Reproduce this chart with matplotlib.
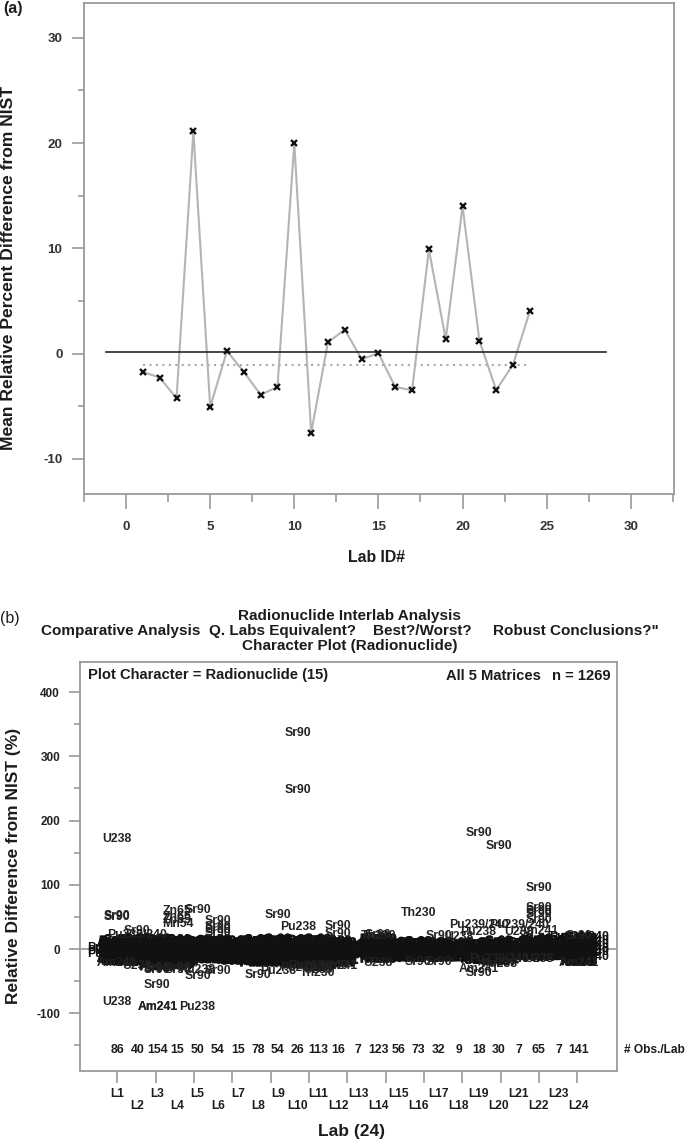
"""Interlab comparison figure: mean difference per lab and radionuclide character plot."""

import matplotlib

matplotlib.use("Agg")
import matplotlib.patheffects as pe
import matplotlib.pyplot as plt

plt.rcParams["font.family"] = ["Liberation Sans", "DejaVu Sans"]
plt.rcParams["axes.unicode_minus"] = False

WIDTH, HEIGHT = 685, 1142
FRAME = "#9a9a9a"
TEXT = "#1c1c1c"

# panel (a)
lab_ids = list(range(1, 25))
mean_diff = [-1.74, -2.27, -4.24, 21.1, -5.07, 0.26, -1.74, -3.9, -3.16, 20.0, -7.54, 1.08,
             2.28, -0.53, 0.04, -3.16, -3.48, 9.9, 1.37, 14.0, 1.24, -3.45, -1.04, 4.03]
solid_x = [-1.2, 28.5]
solid_y = [0.13, 0.13]
dotted_x = [1, 24]
dotted_y = [-1.07, -1.07]

# panel (b)
obs_counts = [86, 40, 154, 15, 50, 54, 15, 78, 54, 26, 113, 16, 7, 123, 56, 73, 32, 9, 18, 30, 7, 65, 7, 141]

# readable labels standing clear of the dense band
fringe_labs = [1, 1, 1, 1, 1,
               2, 2, 2,
               3, 3, 3, 3, 3, 3,
               4, 4, 4, 4, 4, 4,
               5, 5, 5, 5,
               6, 6, 6, 6, 6,
               8,
               9, 9,
               10, 10, 10, 10,
               11, 11, 11,
               12, 12, 12,
               14, 14, 14,
               16, 16,
               17, 17,
               18,
               19, 19, 19, 19, 19,
               20, 20, 20,
               21, 21,
               22, 22, 22, 22, 22, 22, 22,
               24, 24]
fringe_names = ["U238", "Sr90", "Sr90", "U238", "Am241",
                "Sr90", "Pu239/240", "U238",
                "Sr90", "Am241", "Am241", "Sr90", "Sr90", "Sr90",
                "Zn65", "Zn65", "Zn65", "Mn54", "Sr90", "Sr90",
                "Sr90", "Pu238", "Pu238", "Sr90",
                "Sr90", "Sr90", "Sr90", "Sr90", "Sr90",
                "Sr90",
                "Sr90", "Pu238",
                "Sr90", "Sr90", "Pu238", "Pu238",
                "Th230", "Pu239/240", "U238",
                "Sr90", "Sr90", "Am241",
                "U238", "Th230", "Sr90",
                "Th230", "Sr90",
                "Sr90", "Sr90",
                "U238",
                "Sr90", "Sr90", "Am241", "Pu238", "Pu239/240",
                "Sr90", "Pu238", "Pu239/240",
                "Pu239/240", "U238",
                "Sr90", "Sr90", "Sr90", "Sr90", "Sr90", "Am241", "U238",
                "Sr90", "Am241"]
fringe_values = [171, 51, 50, -83, -22,
                 28, 22, -27,
                 -56, -90, -90, -30, -31, -32,
                 59, 50, 45, 39, -30, -32,
                 60, -90, -33, -42,
                 44, 35, 30, 25, -35,
                 -40,
                 53, -34,
                 336, 248, 34, -29,
                 -37, -26, -32,
                 36, 23, -26,
                 -22, 21, 22,
                 56, -20,
                 20, -20,
                 19,
                 180, -37, -31, 27, 37,
                 160, -23, -15,
                 37, 27,
                 95, 64, 59, 54, 45, 28, -15,
                 20, -22]

fill_names = ["Sr90", "Pu238", "U238", "Am241", "Cs137", "Th230", "U234", "Co60", "Ra226", "Pu239"]

band_values = [
    [14, 12, 11, 9, 8, 7, 5, 4, 3, 2, 1, 0, -1, -2, -3, -5, -6, -7, -8, -10, -11, -12, -14, -15, -17, -19, -20],
    [16, 14, 12, 11, 9, 7, 6, 4, 3, 1, 0, -2, -3, -5, -6, -8, -10, -11, -13, -15, -17, -19, -21],
    [15, 14, 12, 11, 9, 8, 6, 5, 4, 2, 1, 0, -1, -3, -4, -5, -7, -8, -10, -11, -13, -14, -16, -17, -19, -20, -22, -24, -26, -28],
    [14, 11, 9, 6, 4, 1, -1, -4, -6, -9, -11, -14, -16, -19, -21, -24, -26],
    [13, 11, 9, 7, 5, 3, 2, 0, -1, -3, -5, -7, -9, -11, -13, -15, -17],
    [14, 12, 10, 8, 6, 4, 2, 0, -1, -3, -5, -7, -9, -11, -13, -15, -17],
    [12, 9, 7, 4, 2, 0, -3, -5, -8, -10, -13, -15, -17, -18, -19],
    [14, 12, 10, 8, 6, 5, 3, 1, 0, -2, -4, -5, -7, -9, -11, -13, -15, -17, -20, -22],
    [15, 13, 11, 8, 6, 4, 2, 0, -2, -4, -6, -8, -10, -13, -15, -17, -19, -22],
    [14, 12, 9, 6, 4, 1, -2, -4, -7, -10, -12, -15, -18, -20, -23, -25],
    [15, 13, 12, 10, 9, 7, 5, 4, 2, 1, -1, -2, -4, -6, -7, -9, -10, -12, -14, -15, -17, -19, -21, -23, -25, -27, -29],
    [12, 9, 7, 4, 2, 0, -3, -5, -7, -10, -12, -14, -16, -18, -20, -22],
    [7, 4, 2, -1, -3, -6, -9],
    [17, 15, 13, 11, 9, 7, 5, 3, 2, 0, -2, -3, -5, -7, -9, -11, -12, -14, -16],
    [10, 8, 6, 4, 2, 0, -2, -4, -6, -8, -10, -12, -14],
    [11, 9, 7, 5, 3, 1, -1, -3, -5, -7, -9, -11, -13, -15],
    [10, 8, 6, 4, 1, -1, -3, -5, -7, -9, -12, -14],
    [9, 6, 3, 0, -3, -6, -8, -11, -14],
    [9, 7, 5, 3, 0, -2, -4, -6, -9, -11, -13, -16, -18],
    [12, 9, 7, 5, 3, 1, -1, -3, -5, -7, -9, -11, -14, -17, -20],
    [11, 7, 3, 0, -3, -7, -11],
    [15, 13, 11, 9, 7, 5, 3, 1, -1, -3, -5, -7, -9, -11, -13],
    [13, 8, 4, 0, -4, -8, -12],
    [18, 16, 14, 12, 11, 9, 7, 5, 4, 2, 0, -1, -3, -5, -7, -8, -10, -12, -14, -16, -18, -20, -21],
]
long_labs = [1, 1, 1, 5, 8, 11, 14, 20, 24, 24, 24, 24, 24, 24]
long_values = [2, -3, -8, 0, -2, -4, 1, -15, 19, 12, 6, 0, -5, -12]

tick_labels_b = [f"L{lab}" for lab in lab_ids]


def add_axes_px(fig, left, right, top, bottom):
    return fig.add_axes([left / WIDTH, 1 - bottom / HEIGHT, (right - left) / WIDTH, (bottom - top) / HEIGHT])


def style_frame(ax):
    for spine in ax.spines.values():
        spine.set_color(FRAME)
        spine.set_linewidth(1.3)


def fig_text(fig, x, y, text, **kwargs):
    kwargs.setdefault("color", TEXT)
    kwargs.setdefault("weight", "bold")
    kwargs.setdefault("ha", "center")
    kwargs.setdefault("va", "center")
    fig.text(x / WIDTH, 1 - y / HEIGHT, text, **kwargs)


def draw_panel_a(fig):
    ax = add_axes_px(fig, 84, 673.7, 3, 493.7)
    ax.set_xlim(-2.5, 32.55)
    ax.set_ylim(-13.3, 33.3)
    style_frame(ax)

    ax.plot(lab_ids, mean_diff, color="#b4b4b4", linewidth=1.5, zorder=2)
    ax.plot(solid_x, solid_y, color="#262626", linewidth=1.2, zorder=3)
    ax.plot(dotted_x, dotted_y, color="#a8a8a8", linewidth=1.5, linestyle=(0, (1, 2.1)), zorder=1)
    ax.plot(lab_ids, mean_diff, linestyle="none", marker="x", color="#111111", markersize=5, markeredgewidth=1.7, zorder=4)

    ax.set_xticks(range(0, 31, 5))
    ax.set_xticks([-2.5, 2.5, 7.5, 12.5, 17.5, 22.5, 27.5, 32.5], minor=True)
    ax.set_yticks(range(-10, 31, 10))
    ax.set_yticks([-5, 5, 15, 25], minor=True)
    ax.tick_params(axis="x", which="major", length=10.5, width=1.2, color=FRAME, pad=9.5)
    ax.tick_params(axis="x", which="minor", length=5.5, width=1.2, color=FRAME)
    ax.tick_params(axis="y", which="major", length=9, width=1.2, color=FRAME, pad=6.5)
    ax.tick_params(axis="y", which="minor", length=4.3, width=1.2, color=FRAME)
    for label in ax.get_xticklabels() + ax.get_yticklabels():
        label.set_fontsize(9.6)
        label.set_fontweight("bold")
        label.set_color("#333333")

    fig_text(fig, 376, 557, "Lab ID#", fontsize=11.4)
    fig_text(fig, 9, 268, "Mean Relative Percent Difference from NIST", fontsize=12.6, rotation=90)
    fig_text(fig, 13, 8, "(a)", fontsize=11.5)


def draw_panel_b(fig):
    ax = add_axes_px(fig, 79.5, 616.7, 662, 1071)
    ax.set_xlim(-0.883, 25.88)
    ax.set_ylim(-190, 447)
    style_frame(ax)
    ax.axhline(0, color="#8a8a8a", linewidth=1.1, zorder=0)

    # a hairline stroke stands in for the smeared print of the dense band
    smear = [pe.withStroke(linewidth=0.7, foreground="#111111")]
    for lab, values in zip(lab_ids, band_values):
        for i, value in enumerate(values):
            ax.text(lab, value, fill_names[i % len(fill_names)], fontsize=8.8, weight="bold", color="#111111",
                    ha="center", va="center", path_effects=smear)
    for lab, value in zip(long_labs, long_values):
        ax.text(lab, value, "Pu239/240", fontsize=8.8, weight="bold", color="#111111", ha="center", va="center")
    for lab, name, value in zip(fringe_labs, fringe_names, fringe_values):
        ax.text(lab, value, name, fontsize=8.8, weight="bold", color="#222222", ha="center", va="center")

    for lab, count in zip(lab_ids, obs_counts):
        ax.text(lab, -157, str(count), fontsize=8.8, weight="bold", color=TEXT, ha="center", va="center")

    # tick spacing on this axis is a little tighter than the label spacing
    ax.set_xticks([1 + k * 38.33 / 20.07 for k in range(13)])
    ax.set_xticklabels([])
    ax.tick_params(axis="x", length=8.6, width=1.2, color=FRAME)
    ax.set_yticks(range(-100, 401, 100))
    ax.set_yticks([-150, -50, 50, 150, 250, 350], minor=True)
    ax.tick_params(axis="y", which="major", length=8, width=1.2, color=FRAME, pad=6)
    ax.tick_params(axis="y", which="minor", length=4, width=1.2, color=FRAME)
    for label in ax.get_yticklabels():
        label.set_fontsize(8.5)
        label.set_fontweight("bold")
        label.set_color("#222222")

    for lab, name in zip(lab_ids, tick_labels_b):
        row_y = 1093.7 if lab % 2 else 1106
        x_px = 117.3 + 20.07 * (lab - 1)
        fig_text(fig, x_px, row_y, name, fontsize=8.6)

    fig_text(fig, 349, 616, "Radionuclide Interlab Analysis", fontsize=11)
    fig_text(fig, 41, 631, "Comparative Analysis", fontsize=11, ha="left")
    fig_text(fig, 209, 631, "Q. Labs Equivalent?", fontsize=11, ha="left")
    fig_text(fig, 373, 631, "Best?/Worst?", fontsize=11, ha="left")
    fig_text(fig, 493, 631, "Robust Conclusions?\"", fontsize=11, ha="left")
    fig_text(fig, 349.5, 646, "Character Plot (Radionuclide)", fontsize=11)
    fig_text(fig, 88, 675.5, "Plot Character = Radionuclide (15)", fontsize=10.6, ha="left")
    fig_text(fig, 446, 675.5, "All 5 Matrices", fontsize=10.6, ha="left")
    fig_text(fig, 611, 675.5, "n = 1269", fontsize=10.6, ha="right")
    fig_text(fig, 624, 1050, "# Obs./Lab", fontsize=8.6, ha="left")
    fig_text(fig, 351, 1131.5, "Lab (24)", fontsize=12.5)
    fig_text(fig, 14, 866, "Relative Difference from NIST (%)", fontsize=12.5, rotation=90)
    fig_text(fig, 10, 619, "(b)", fontsize=11.5, weight="normal")


def main():
    fig = plt.figure(figsize=(WIDTH / 100, HEIGHT / 100), dpi=100)
    draw_panel_a(fig)
    draw_panel_b(fig)
    fig.savefig("out.png", dpi=100)


if __name__ == "__main__":
    main()
